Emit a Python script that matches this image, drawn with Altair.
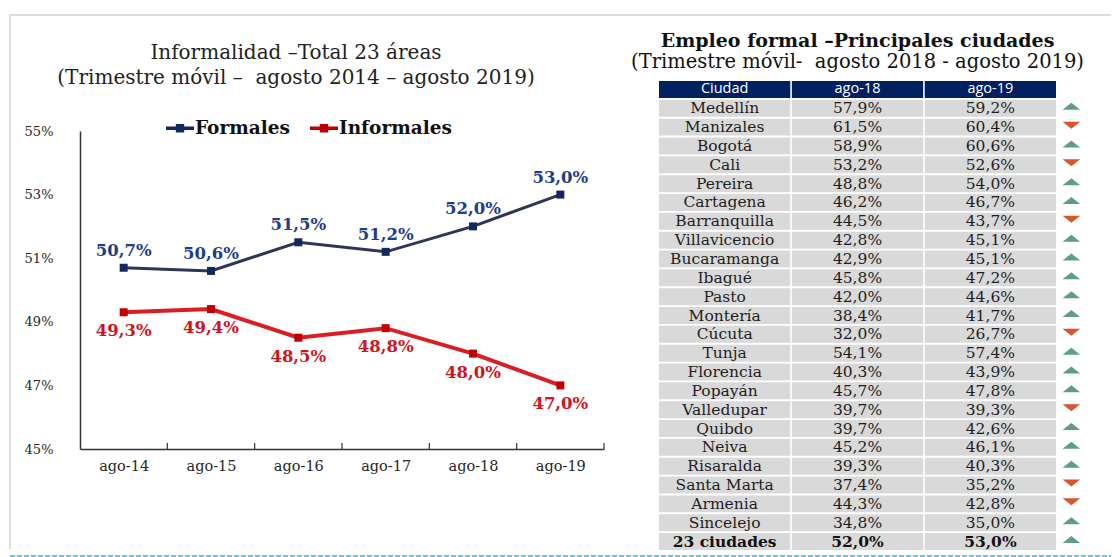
import json
import altair as alt
import pandas as pd

# ---------------- data ----------------
periodos = ["ago-14", "ago-15", "ago-16", "ago-17", "ago-18", "ago-19"]
formales = [50.7, 50.6, 51.5, 51.2, 52.0, 53.0]
informales = [49.3, 49.4, 48.5, 48.8, 48.0, 47.0]
series = ["Formales", "Informales"]
y_ticks = [45, 47, 49, 51, 53, 55]

columnas = ["Ciudad", "ago-18", "ago-19"]
ciudades = ["Medellín", "Manizales", "Bogotá", "Cali", "Pereira", "Cartagena",
            "Barranquilla", "Villavicencio", "Bucaramanga", "Ibagué", "Pasto",
            "Montería", "Cúcuta", "Tunja", "Florencia", "Popayán", "Valledupar",
            "Quibdo", "Neiva", "Risaralda", "Santa Marta", "Armenia", "Sincelejo",
            "23 ciudades"]
ago18 = [57.9, 61.5, 58.9, 53.2, 48.8, 46.2, 44.5, 42.8, 42.9, 45.8, 42.0, 38.4,
         32.0, 54.1, 40.3, 45.7, 39.7, 39.7, 45.2, 39.3, 37.4, 44.3, 34.8, 52.0]
ago19 = [59.2, 60.4, 60.6, 52.6, 54.0, 46.7, 43.7, 45.1, 45.1, 47.2, 44.6, 41.7,
         26.7, 57.4, 43.9, 47.8, 39.3, 42.6, 46.1, 40.3, 35.2, 42.8, 35.0, 53.0]
total_label = "23 ciudades"

# ---------------- styles ----------------
SERIF = "DejaVu Serif"
SANS = "Open Sans"
NAVY_LINE = "#2E3558"
NAVY_MARK = "#14285F"
NAVY_TEXT = "#1F3E8A"
RED_LINE = "#D91E26"
RED_MARK = "#C00000"
RED_TEXT = "#D0141E"
FMT = "replace(format(datum.valor, '.1f'), '.', ',') + '%'"
NB = "\u00a0"


def pct(v):
    return f"{v:.1f}".replace(".", ",") + "%"


# ---------------- left: line chart ----------------
rows = []
for i, p in enumerate(periodos):
    rows.append({"i": i, "periodo": p, "serie": series[0], "valor": formales[i]})
    rows.append({"i": i, "periodo": p, "serie": series[1], "valor": informales[i]})
df_lines = pd.DataFrame(rows)
df_ticks = pd.DataFrame({"b": [i + 0.5 for i in range(len(periodos))]})

W_L, H = 524, 469
x_scale = alt.Scale(domain=[-0.5, len(periodos) - 0.5], nice=False, zero=False)
y_scale = alt.Scale(domain=[45, 55], range=[368, 50], nice=False, zero=False)

x_axis = alt.Axis(values=list(range(len(periodos))),
                  labelExpr=json.dumps(periodos) + "[datum.value]",
                  title=None, ticks=False, tickSize=0, grid=False, offset=-101,
                  labelPadding=10, labelFont=SERIF, labelFontSize=14.5,
                  labelColor="#262626", domainColor="#333333", domainWidth=1.5)
y_axis = alt.Axis(values=y_ticks, labelExpr="datum.value + '%'", title=None,
                  ticks=False, tickSize=0, grid=False, labelPadding=27,
                  labelFont=SERIF, labelFontSize=13, labelColor="#262626",
                  domainColor="#333333", domainWidth=1.5)

base = alt.Chart(df_lines).encode(
    x=alt.X("i:Q", scale=x_scale, axis=x_axis),
    y=alt.Y("valor:Q", scale=y_scale, axis=y_axis),
)

line_f = base.transform_filter(alt.datum.serie == series[0]).mark_line(
    color=NAVY_LINE, strokeWidth=3)
line_i = base.transform_filter(alt.datum.serie == series[1]).mark_line(
    color=RED_LINE, strokeWidth=4)

legend_path = ("M-1,-0.12L1,-0.12L1,0.12L-1,0.12Z "
               "M-0.3,-0.3L0.3,-0.3L0.3,0.3L-0.3,0.3Z")
points = base.mark_point(shape="square", filled=True, size=64, opacity=1).encode(
    color=alt.Color("serie:N",
                    scale=alt.Scale(domain=series, range=[NAVY_MARK, RED_MARK]),
                    legend=alt.Legend(title=None, orient="none", direction="horizontal",
                                      legendX=86, legendY=33,
                                      symbolType=legend_path, symbolSize=784,
                                      symbolStrokeWidth=0, symbolOpacity=1,
                                      labelFont=SERIF, labelFontSize=18.5,
                                      labelFontWeight="bold", labelColor="#111111",
                                      labelOffset=1, columnPadding=20))
)

text_f = base.transform_filter(alt.datum.serie == series[0]).transform_calculate(
    lbl=FMT).mark_text(font=SERIF, fontSize=16.5, fontWeight="bold", color=NAVY_TEXT,
                       dy=-17).encode(text="lbl:N")
text_i = base.transform_filter(alt.datum.serie == series[1]).transform_calculate(
    lbl=FMT).mark_text(font=SERIF, fontSize=16.5, fontWeight="bold", color=RED_TEXT,
                       dy=19).encode(text="lbl:N")

ticks_up = alt.Chart(df_ticks).mark_rule(color="#333333", strokeWidth=1.2).encode(
    x=alt.X("b:Q", scale=x_scale), y=alt.value(368), y2=alt.value(362))

# page frame (light grey top/left edges, dashed cyan bottom edge)
frame_top = alt.Chart(df_ticks).mark_rule(color="#DDDDDD", strokeWidth=2).encode(
    x=alt.value(-71), x2=alt.value(1031), y=alt.value(-66))
frame_left = alt.Chart(df_ticks).mark_rule(color="#DDDDDD", strokeWidth=2).encode(
    x=alt.value(-70), y=alt.value(-67), y2=alt.value(468))
frame_bottom = alt.Chart(df_ticks).mark_rule(color="#6CC3DA", strokeWidth=2,
                                             strokeDash=[5, 2]).encode(
    x=alt.value(-70), x2=alt.value(1031), y=alt.value(475))

left = alt.layer(frame_top, frame_left, frame_bottom, line_f, line_i, points,
                 text_f, text_i, ticks_up).properties(
    width=W_L, height=H,
    title=alt.TitleParams(
        text=["Informalidad –Total 23 áreas",
              "(Trimestre móvil –" + NB + " agosto 2014 – agosto 2019)"],
        font=SERIF, fontSize=20, fontWeight="normal", color="#222222",
        lineHeight=25, anchor="middle", dx=-46, offset=-75),
)

# ---------------- right: table ----------------
cells = []
for i, c in enumerate(ciudades):
    cells.append({"fila": c, "col": columnas[0], "texto": c})
    cells.append({"fila": c, "col": columnas[1], "texto": pct(ago18[i])})
    cells.append({"fila": c, "col": columnas[2], "texto": pct(ago19[i])})
df_cells = pd.DataFrame(cells)
df_head = pd.DataFrame({"fila": [columnas[0]] * 3, "col": columnas, "texto": columnas})
df_arrow = pd.DataFrame({"fila": ciudades, "col": [columnas[2]] * len(ciudades),
                         "dir": ["up" if b >= a else "down" for a, b in zip(ago18, ago19)]})

W_R = 397
tx = alt.Scale(domain=columnas, range=[0, W_R], paddingInner=0.012, paddingOuter=0)
ty = alt.Scale(domain=[columnas[0]] + ciudades, paddingInner=0.1, paddingOuter=0)
X = alt.X("col:N", scale=tx, axis=None)
Y = alt.Y("fila:N", scale=ty, axis=None)

body_rect = alt.Chart(df_cells).mark_rect(color="#D9D9D9").encode(x=X, y=Y)
head_rect = alt.Chart(df_head).mark_rect(color="#002060").encode(x=X, y=Y)
body_txt = alt.Chart(df_cells).transform_filter(alt.datum.fila != total_label).mark_text(
    font=SERIF, fontSize=15.5, color="#1E1E1E").encode(x=X, y=Y, text="texto:N")
total_txt = alt.Chart(df_cells).transform_filter(alt.datum.fila == total_label).mark_text(
    font=SERIF, fontSize=15.5, fontWeight="bold", color="#111111").encode(
    x=X, y=Y, text="texto:N")
head_txt = alt.Chart(df_head).mark_text(font=SANS, fontSize=14.5, color="white").encode(
    x=X, y=Y, text="texto:N")

up_path = "M-1,0.4L0,-0.4L1,0.4Z"
down_path = "M-1,-0.4L0,0.4L1,-0.4Z"
arrows = alt.Chart(df_arrow).mark_point(filled=True, size=310, opacity=1,
                                        xOffset=81, yOffset=-2).encode(
    x=X, y=Y,
    shape=alt.Shape("dir:N", scale=alt.Scale(domain=["up", "down"],
                                             range=[up_path, down_path]), legend=None),
    color=alt.Color("dir:N", scale=alt.Scale(domain=["up", "down"],
                                             range=["#5E9E82", "#D9552E"]), legend=None),
)

right = alt.layer(body_rect, head_rect, body_txt, total_txt, head_txt, arrows).properties(
    width=W_R, height=H,
    title=alt.TitleParams(
        text="Empleo formal –Principales ciudades",
        subtitle="(Trimestre móvil-" + NB + " agosto 2018 - agosto 2019)",
        font=SERIF, fontSize=19, fontWeight="bold", color="#111111",
        subtitleFont=SERIF, subtitleFontSize=19.5, subtitleColor="#111111",
        subtitlePadding=2, anchor="middle", offset=10),
).resolve_scale(color="independent", shape="independent")

chart = alt.hconcat(left, right, spacing=55, bounds="flush").resolve_scale(
    color="independent", shape="independent").configure(
    padding={"left": 8, "top": 13, "right": 0, "bottom": 0},
    background="white").configure_view(stroke=None)

chart.save("out.html", embed_options={"renderer": "svg", "actions": False})
